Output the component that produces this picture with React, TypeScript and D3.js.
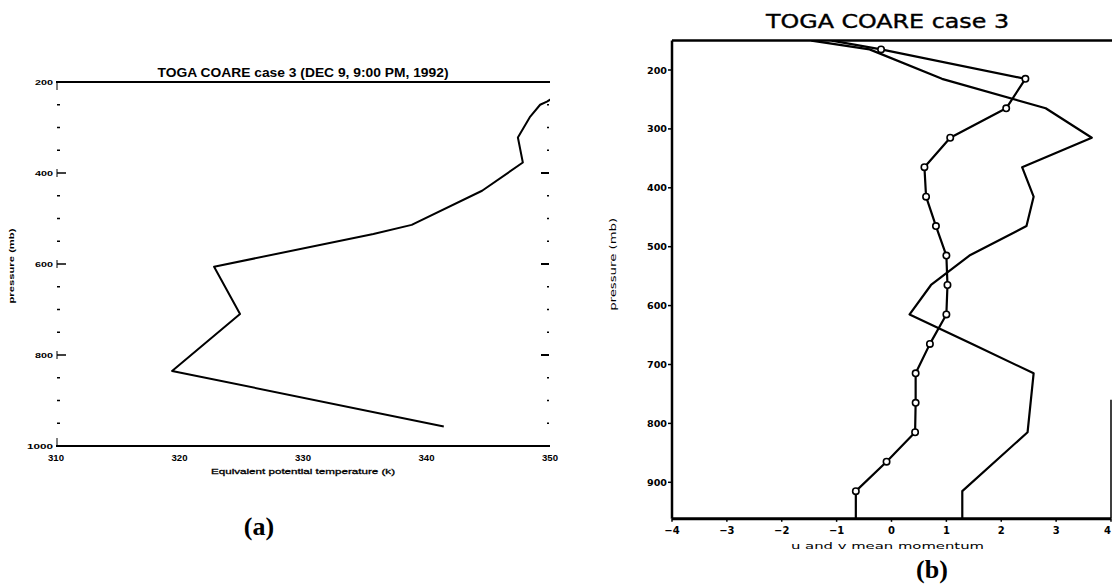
import React from 'react';
import * as d3 from 'd3';

const W = 1112;
const H = 588;

// ---------- Panel (a): equivalent potential temperature profile ----------
const thetaTicks = [310, 320, 330, 340, 350];
const pressureTicksA = [200, 400, 600, 800, 1000];
const thetaLevels = [215, 243, 250, 276, 322, 377, 439, 514, 534, 606, 710, 835, 957];
const thetaValues = [351.5, 349.75, 349.2, 348.4, 347.4, 347.8, 344.5, 338.8, 335.7, 322.8, 324.9, 319.4, 341.4];

// ---------- Panel (b): u and v mean momentum ----------
const momentumTicks = [-4, -3, -2, -1, 0, 1, 2, 3, 4];
const pressureTicksB = [200, 300, 400, 500, 600, 700, 800, 900];
const circleLevels = [150, 165, 215, 265, 315, 365, 415, 465, 515, 565, 615, 665, 715, 765, 815, 865, 915, 962];
const circleValues = [-1.09, -0.19, 2.44, 2.09, 1.07, 0.6, 0.63, 0.81, 1.0, 1.02, 1.0, 0.7, 0.44, 0.44, 0.43, -0.09, -0.65, -0.65];
const plainLevels = [150, 165, 215, 265, 315, 365, 415, 465, 515, 565, 615, 665, 715, 815, 915, 962];
const plainValues = [-1.46, -0.4, 0.92, 2.81, 3.65, 2.38, 2.59, 2.46, 1.42, 0.72, 0.33, 1.47, 2.59, 2.48, 1.29, 1.29];

export default function App() {
  // scales panel a
  const xA = d3.scaleLinear().domain([310, 350]).range([56, 550]);
  const yA = d3.scaleLinear().domain([200, 1000]).range([82, 446]);
  // scales panel b
  const xB = d3.scaleLinear().domain([-4, 4]).range([672, 1111]);
  const yB = d3.scaleLinear().domain([200, 900]).range([70, 482.3]);
  const bTop = yB(150);
  const bBot = yB(962);

  const lineA = d3
    .line<number>()
    .x((_, i) => xA(thetaValues[i]))
    .y((p) => yA(p));
  const lineCircle = d3
    .line<number>()
    .x((_, i) => xB(circleValues[i]))
    .y((p) => yB(p));
  const linePlain = d3
    .line<number>()
    .x((_, i) => xB(plainValues[i]))
    .y((p) => yB(p));

  const minorA = d3.range(250, 1000, 50).filter((p) => !pressureTicksA.includes(p));

  const fontA = '"Liberation Sans", Arial, sans-serif';
  const fontB = '"DejaVu Sans", sans-serif';

  return (
    <svg
      width={W}
      height={H}
      viewBox={`0 0 ${W} ${H}`}
      style={{ position: 'absolute', left: 0, top: 0, background: '#fff' }}
    >
      <rect x={0} y={0} width={W} height={H} fill="#fff" />
      <defs>
        <clipPath id="clipA">
          <rect x={xA(310)} y={yA(200)} width={xA(350) - xA(310)} height={yA(1000) - yA(200)} />
        </clipPath>
        <clipPath id="clipB">
          <rect x={xB(-4)} y={bTop} width={xB(4) - xB(-4) + 2} height={bBot - bTop} />
        </clipPath>
      </defs>

      {/* ================= Panel (a) ================= */}
      <g fontFamily={fontA} fontWeight="bold" fill="#000">
        <text x={(xA(310) + xA(350)) / 2} y={77} fontSize={13} textAnchor="middle" textLength={291} lengthAdjust="spacingAndGlyphs">
          TOGA COARE case 3 (DEC 9, 9:00 PM, 1992)
        </text>
        {/* top and bottom frame lines */}
        <line x1={xA(310)} x2={xA(350)} y1={yA(200)} y2={yA(200)} stroke="#000" strokeWidth={2} />
        <line x1={xA(310)} x2={xA(350)} y1={yA(1000)} y2={yA(1000)} stroke="#000" strokeWidth={2} />
        {/* left major ticks */}
        {pressureTicksA.map((p) => (
          <g key={'la' + p}>
            <line
              x1={xA(310) + 1}
              x2={xA(310) + 1}
              y1={p === 200 ? yA(p) : p === 1000 ? yA(p) - 8 : yA(p) - 4}
              y2={p === 200 ? yA(p) + 8 : p === 1000 ? yA(p) : yA(p) + 4}
              stroke="#000"
              strokeWidth={1}
            />
            {p !== 200 && p !== 1000 && (
              <line x1={xA(310) + 1} x2={xA(310) + 10} y1={yA(p)} y2={yA(p)} stroke="#000" strokeWidth={1.5} />
            )}
            {p !== 200 && p !== 1000 && (
              <line x1={xA(350) - 9} x2={xA(350) - 1} y1={yA(p)} y2={yA(p)} stroke="#000" strokeWidth={2} />
            )}
            <text x={xA(310) - 3} y={yA(p) + 3} fontSize={8} textAnchor="end" textLength={p === 1000 ? 26 : 18} lengthAdjust="spacingAndGlyphs">
              {p}
            </text>
          </g>
        ))}
        {/* minor ticks */}
        {minorA.map((p) => (
          <g key={'ma' + p}>
            <line x1={xA(310) + 1} x2={xA(310) + 4} y1={yA(p)} y2={yA(p)} stroke="#000" strokeWidth={1.5} />
            <line x1={xA(350) - 3} x2={xA(350) - 1} y1={yA(p)} y2={yA(p)} stroke="#000" strokeWidth={1.5} />
          </g>
        ))}
        {/* bottom tick labels */}
        {thetaTicks.map((t) => (
          <text key={'ta' + t} x={xA(t)} y={yA(1000) + 15} fontSize={9} textAnchor="middle" textLength={16} lengthAdjust="spacingAndGlyphs">
            {t}
          </text>
        ))}
        <text x={(xA(310) + xA(350)) / 2} y={yA(1000) + 28} fontSize={8} textAnchor="middle" textLength={184} lengthAdjust="spacingAndGlyphs" fontWeight="normal" stroke="#000" strokeWidth={0.3}>
          Equivalent potential temperature (k)
        </text>
        <text
          transform={`translate(14, ${(yA(200) + yA(1000)) / 2 + 2}) rotate(-90)`}
          fontSize={8}
          textAnchor="middle"
          textLength={75}
          lengthAdjust="spacingAndGlyphs"
        >
          pressure (mb)
        </text>
        <path
          d={lineA(thetaLevels) || ''}
          fill="none"
          stroke="#000"
          strokeWidth={2}
          strokeLinejoin="round"
          clipPath="url(#clipA)"
        />
      </g>
      <text x={259} y={535} fontFamily='"Liberation Serif", "DejaVu Serif", serif' fontWeight="bold" fontSize={26} textAnchor="middle" fill="#000">
        (a)
      </text>

      {/* ================= Panel (b) ================= */}
      <g fontFamily={fontB} fill="#000">
        <text x={(xB(-4) + xB(4)) / 2 - 4} y={28} fontSize={20} textAnchor="middle" textLength={243} lengthAdjust="spacingAndGlyphs" stroke="#000" strokeWidth={0.4}>
          TOGA COARE case 3
        </text>
        {/* frame */}
        <line x1={xB(-4)} x2={W} y1={bTop} y2={bTop} stroke="#000" strokeWidth={2.5} />
        <line x1={xB(-4)} x2={xB(4)} y1={bBot} y2={bBot} stroke="#000" strokeWidth={3} />
        <line x1={xB(-4)} x2={xB(-4)} y1={bTop} y2={bBot} stroke="#000" strokeWidth={2.5} />
        <line x1={xB(4)} x2={xB(4)} y1={yB(760)} y2={bBot} stroke="#000" strokeWidth={1.5} />
        {/* y ticks */}
        {pressureTicksB.map((p) => (
          <g key={'pb' + p}>
            <line x1={xB(-4) - 4} x2={xB(-4)} y1={yB(p)} y2={yB(p)} stroke="#000" strokeWidth={1.5} />
            <text x={xB(-4) - 5} y={yB(p) + 3.5} fontSize={9} fontWeight="bold" textAnchor="end" textLength={20} lengthAdjust="spacingAndGlyphs">
              {p}
            </text>
          </g>
        ))}
        {/* x ticks */}
        {momentumTicks.map((u) => {
          const last = u === momentumTicks[momentumTicks.length - 1];
          return (
            <g key={'ub' + u}>
              <line x1={xB(u)} x2={xB(u)} y1={bBot} y2={bBot + 3} stroke="#000" strokeWidth={1.5} />
              <text
                x={last ? W - 1 : xB(u)}
                y={bBot + 15}
                fontSize={10}
                fontWeight="bold"
                textAnchor={last ? 'end' : 'middle'}
              >
                {u < 0 ? '\u2212' + Math.abs(u) : String(u)}
              </text>
            </g>
          );
        })}
        <text x={(xB(-4) + xB(4)) / 2 - 4} y={bBot + 30} fontSize={9} textAnchor="middle" textLength={193} lengthAdjust="spacingAndGlyphs">
          u and v mean momentum
        </text>
        <text
          transform={`translate(616, ${yB(530)}) rotate(-90)`}
          fontSize={9}
          textAnchor="middle"
          textLength={93}
          lengthAdjust="spacingAndGlyphs"
        >
          pressure (mb)
        </text>
        <g clipPath="url(#clipB)">
          <path d={linePlain(plainLevels) || ''} fill="none" stroke="#000" strokeWidth={2.2} strokeLinejoin="round" />
          <path d={lineCircle(circleLevels) || ''} fill="none" stroke="#000" strokeWidth={2.2} strokeLinejoin="round" />
          {circleLevels.map((p, i) =>
            i > 0 && i < circleLevels.length - 1 ? (
              <circle key={'c' + i} cx={xB(circleValues[i])} cy={yB(p)} r={3.2} fill="#fff" stroke="#000" strokeWidth={1.6} />
            ) : null
          )}
        </g>
      </g>
      <text x={932} y={578} fontFamily='"Liberation Serif", "DejaVu Serif", serif' fontWeight="bold" fontSize={26} textAnchor="middle" fill="#000">
        (b)
      </text>
    </svg>
  );
}
